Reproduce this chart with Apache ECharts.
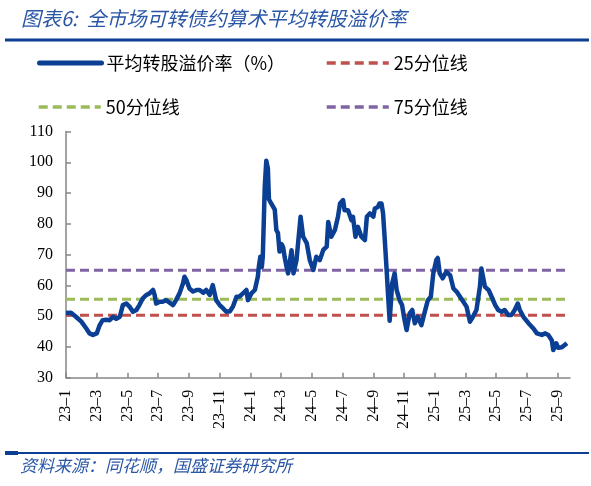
<!DOCTYPE html>
<html>
<head>
<meta charset="utf-8">
<script src="https://cdn.jsdelivr.net/npm/echarts@6/dist/echarts.min.js"></script>
<style>
html,body{margin:0;padding:0;background:#fff;}
#chart{width:591px;height:486px;}
</style>
</head>
<body>
<div id="chart"></div>
<script>
// ---- data ----
const dates = [
"2023-01-01","2023-01-11","2023-01-21","2023-02-01","2023-02-10","2023-02-16","2023-02-22","2023-03-01","2023-03-07","2023-03-13",
"2023-03-20","2023-03-27","2023-04-03","2023-04-09","2023-04-16","2023-04-22","2023-04-29","2023-05-05","2023-05-12","2023-05-19",
"2023-05-25","2023-06-01","2023-06-08","2023-06-14","2023-06-21","2023-06-24","2023-06-27","2023-07-04","2023-07-10","2023-07-17",
"2023-07-24","2023-07-31","2023-08-06","2023-08-13","2023-08-20","2023-08-23","2023-08-27","2023-09-02","2023-09-09","2023-09-16",
"2023-09-22","2023-09-29","2023-10-05","2023-10-12","2023-10-18","2023-10-25","2023-11-01","2023-11-08","2023-11-14","2023-11-21",
"2023-11-27","2023-12-04","2023-12-10","2023-12-17","2023-12-24","2023-12-27","2024-01-03","2024-01-10","2024-01-13","2024-01-16",
"2024-01-18","2024-01-21","2024-01-24","2024-01-26","2024-01-30","2024-02-02","2024-02-05","2024-02-07","2024-02-11","2024-02-18",
"2024-02-21","2024-02-24","2024-02-27","2024-03-02","2024-03-05","2024-03-08","2024-03-12","2024-03-15","2024-03-19","2024-03-22",
"2024-03-26","2024-04-01","2024-04-09","2024-04-14","2024-04-21","2024-04-27","2024-05-04","2024-05-10","2024-05-17","2024-05-24",
"2024-05-31","2024-06-03","2024-06-09","2024-06-16","2024-06-22","2024-06-26","2024-07-02","2024-07-05","2024-07-12","2024-07-19",
"2024-07-22","2024-07-27","2024-08-01","2024-08-08","2024-08-15","2024-08-19","2024-08-25","2024-09-01","2024-09-04","2024-09-10",
"2024-09-13","2024-09-17","2024-09-20","2024-09-23","2024-09-27","2024-09-30","2024-10-03","2024-10-08","2024-10-13","2024-10-17",
"2024-10-23","2024-10-28","2024-11-02","2024-11-06","2024-11-12","2024-11-17","2024-11-22","2024-11-28","2024-12-05","2024-12-11",
"2024-12-18","2024-12-24","2024-12-29","2025-01-04","2025-01-07","2025-01-11","2025-01-17","2025-01-24","2025-02-01","2025-02-07",
"2025-02-13","2025-02-19","2025-02-25","2025-03-03","2025-03-10","2025-03-16","2025-03-23","2025-03-30","2025-04-02","2025-04-09",
"2025-04-16","2025-04-22","2025-04-29","2025-05-05","2025-05-12","2025-05-18","2025-05-25","2025-06-01","2025-06-07","2025-06-13",
"2025-06-17","2025-06-24","2025-07-04","2025-07-14","2025-07-21","2025-07-31","2025-08-07","2025-08-13","2025-08-20","2025-08-23",
"2025-08-29","2025-09-02","2025-09-09","2025-09-19"
];
const premium = [
51.0,51.1,49.8,48.2,46.0,44.4,43.9,44.4,47.1,48.7,
48.8,48.7,49.8,49.1,49.8,53.6,54.1,53.1,51.4,52.0,
53.6,55.8,56.9,57.4,58.5,56.9,54.1,54.7,54.7,55.2,
54.4,53.6,55.2,57.4,60.6,62.8,61.7,59.0,58.0,58.5,
58.5,57.6,58.5,56.9,60.1,55.2,53.6,52.5,51.4,51.6,
53.1,56.3,56.4,57.4,58.5,55.2,57.4,58.5,59.0,62.8,
66.0,69.3,66.0,69.3,92.0,100.5,98.0,88.0,86.7,84.6,
78.0,77.0,71.0,73.4,72.4,69.3,66.0,63.9,64.5,71.4,
63.9,68.2,82.3,75.8,73.7,68.2,65.0,69.3,68.2,71.5,
72.6,80.6,75.8,78.0,82.3,86.6,87.7,84.4,84.4,81.2,
82.3,75.8,79.0,75.8,74.7,82.3,83.4,82.3,85.0,85.5,
86.6,86.6,83.4,75.8,65.0,56.3,48.5,60.6,63.9,58.5,
55.2,53.6,48.7,45.5,50.9,52.0,47.7,49.8,47.1,50.9,
55.2,56.3,63.9,68.2,68.9,63.9,62.3,64.4,63.3,59.0,
57.9,56.3,54.7,53.1,48.2,49.8,52.0,59.5,65.5,59.5,
58.5,56.3,53.6,52.0,51.4,52.0,50.4,50.4,52.0,54.1,
52.0,49.8,47.7,46.0,44.4,43.9,44.4,43.9,42.2,39.0,
41.2,39.7,39.9,41.2
];
const p25 = 50.3;
const p50 = 55.5;
const p75 = 64.9;
const seriesNames = ["平均转股溢价率（%）","25分位线","50分位线","75分位线"];
const yTicks = [30,40,50,60,70,80,90,100,110];
const titleText = "图表6:  全市场可转债约算术平均转股溢价率";
const sourceText = "资料来源：同花顺，国盛证券研究所";

// ---- helpers ----
function monthPos(s){
  const [y,m,d] = s.split("-").map(Number);
  const dim = new Date(y, m, 0).getDate();
  return (y-2023)*12 + (m-1) + (d-1)/dim;
}
const xs = dates.map(monthPos);
const mainData = xs.map((x,i)=>[x, premium[i]]);
const constLine = v => xs.map(x=>[x, v]);

const chart = echarts.init(document.getElementById('chart'), null, {renderer:'canvas'});
const blue = '#0A3F94';
const legendFont = {fontSize:18, color:'#000', fontFamily:'"Noto Sans CJK SC","Noto Sans",sans-serif'};
function leg(name, left, top, lw, cap){
  return {data:[name], left:left, top:top, itemWidth:62, itemHeight:12, itemGap:5,
          textStyle:legendFont, selectedMode:false,
          itemStyle:{opacity:0, borderWidth:0},
          lineStyle:{width:lw, cap:cap}};
}
const option = {
  animation:false,
  backgroundColor:'#fff',
  graphic:[
    {type:'text', left:21, top:8, style:{text:titleText, fill:'#2A56A6',
      font:'italic 20px "Noto Sans CJK SC", sans-serif'}},
    {type:'rect', left:5, top:38.5, shape:{width:584, height:3}, style:{fill:blue}},
    {type:'rect', left:5, top:452, shape:{width:584, height:2}, style:{fill:blue}},
    {type:'rect', left:5, top:451, shape:{width:13, height:4}, style:{fill:blue}},
    {type:'text', left:20, top:457, style:{text:sourceText, fill:'#2A56A6',
      font:'italic 17px "Noto Sans CJK SC", sans-serif'}}
  ],
  legend:[
    leg(seriesNames[0], 32, 49, 5, 'round'),
    leg(seriesNames[1], 320, 49, 3.5, 'butt'),
    leg(seriesNames[2], 32, 93, 3.5, 'butt'),
    leg(seriesNames[3], 320, 93, 3.5, 'butt')
  ],
  grid:{left:66, right:21, top:131.5, bottom:108.3, containLabel:false},
  xAxis:{
    type:'value', min:0, max:32.8, interval:2,
    axisLine:{lineStyle:{color:'#868686', width:1.5}},
    axisTick:{inside:true, length:5, lineStyle:{color:'#868686', width:1.5}},
    splitLine:{show:false},
    axisLabel:{rotate:90, margin:12, fontSize:16, color:'#000',
      fontFamily:'"Liberation Serif","Times New Roman",serif',
      showMaxLabel:false,
      formatter:function(v){
        const yy = 23 + Math.floor(v/12);
        const mm = Math.round(v % 12) + 1;
        return yy + '–' + mm;
      }}
  },
  yAxis:{
    type:'value', min:yTicks[0], max:yTicks[yTicks.length-1], interval:10,
    axisLine:{show:true, lineStyle:{color:'#868686', width:1.5}},
    axisTick:{show:true, inside:true, length:5, lineStyle:{color:'#868686', width:1.5}},
    splitLine:{show:false},
    axisLabel:{margin:13, fontSize:16, color:'#000',
      fontFamily:'"Liberation Serif","Times New Roman",serif'}
  },
  series:[
    {name:seriesNames[1], type:'line', data:constLine(p25), symbol:'none', z:2,
     lineStyle:{color:'#C0504D', width:3, type:[9,5]}, itemStyle:{color:'#C0504D'}},
    {name:seriesNames[2], type:'line', data:constLine(p50), symbol:'none', z:2,
     lineStyle:{color:'#9BBB59', width:3, type:[9,5]}, itemStyle:{color:'#9BBB59'}},
    {name:seriesNames[3], type:'line', data:constLine(p75), symbol:'none', z:2,
     lineStyle:{color:'#8064A2', width:3, type:[9,5]}, itemStyle:{color:'#8064A2'}},
    {name:seriesNames[0], type:'line', data:mainData, symbol:'none', z:3,
     lineStyle:{color:blue, width:4.5, join:'round'}, itemStyle:{color:blue}}
  ]
};
chart.setOption(option);
</script>
</body>
</html>
